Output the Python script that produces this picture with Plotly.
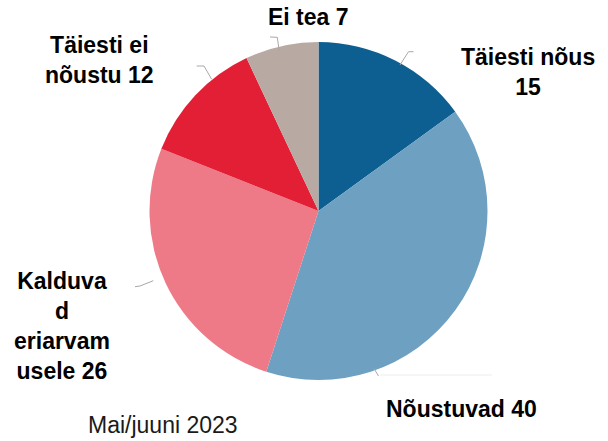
import plotly.graph_objects as go

W, H = 608, 441

# Data
categories = ["Täiesti nõus", "Nõustuvad", "Kalduvad eriarvamusele", "Täiesti ei nõustu", "Ei tea"]
values = [15, 40, 26, 12, 7]
label_texts = ["Täiesti nõus<br>15", "Nõustuvad 40", "Kalduva<br>d<br>eriarvam<br>usele 26",
               "Täiesti ei<br>nõustu 12", "Ei tea 7"]
colors = ["#0d5e91", "#6da0c1", "#ee7a87", "#e31f36", "#b8a9a3"]
subtitle = "Mai/juuni 2023"

# label anchor positions (pixels, center of text block)
label_pos = [(528, 72), (461, 409), (62, 326), (99, 60), (308, 17)]

# pie geometry (pixels)
cx, cy, r = 318.5, 211, 169


def px(x):
    return x / W


def py(y):
    return 1 - y / H


fig = go.Figure(go.Pie(
    labels=categories,
    values=values,
    sort=False,
    direction="clockwise",
    rotation=0,
    marker=dict(colors=colors, line=dict(width=0)),
    textinfo="none",
    hoverinfo="label+value",
    showlegend=False,
    domain=dict(x=[px(cx - r), px(cx + r)], y=[py(cy + r), py(cy - r)]),
))

font_b = dict(family="Arial, Liberation Sans, sans-serif", size=23, color="#000000")
annotations = []
for txt, (lx, ly) in zip(label_texts, label_pos):
    annotations.append(dict(
        text="<b>" + txt + "</b>", x=px(lx), y=py(ly), xref="paper", yref="paper",
        xanchor="center", yanchor="middle", showarrow=False, align="center", font=font_b,
    ))
annotations.append(dict(
    text=subtitle, x=px(163), y=py(425), xref="paper", yref="paper",
    xanchor="center", yanchor="middle", showarrow=False,
    font=dict(family="Arial, Liberation Sans, sans-serif", size=23, color="#1a1a1a"),
))

# leader lines (pixel polylines)
leaders = [
    [(400, 65), (408.5, 51.7), (413.5, 51.7)],
    [(374, 368.5), (378.5, 376)],
    [(135, 286.7), (140, 286), (153.3, 280.7)],
    [(196.7, 66), (204, 66), (211.7, 79.3)],
    [(279.3, 51.7), (277.3, 37.3), (270, 37)],
]
shapes = []
for pts in leaders:
    path = "M " + " L ".join(f"{px(x):.5f},{py(y):.5f}" for x, y in pts)
    shapes.append(dict(type="path", path=path, xref="paper", yref="paper",
                       line=dict(color="#a8a8a8", width=1)))
shapes.append(dict(type="line", xref="paper", yref="paper",
                   x0=px(380), y0=py(375), x1=px(492), y1=py(375),
                   line=dict(color="#ededed", width=1)))

fig.update_layout(
    width=W, height=H,
    margin=dict(l=0, r=0, t=0, b=0),
    paper_bgcolor="#ffffff",
    plot_bgcolor="#ffffff",
    annotations=annotations,
    shapes=shapes,
)

fig.write_html(
    "out.html",
    config={"displayModeBar": False},
    post_script="document.body.style.margin='0';document.body.style.overflow='hidden';",
)
